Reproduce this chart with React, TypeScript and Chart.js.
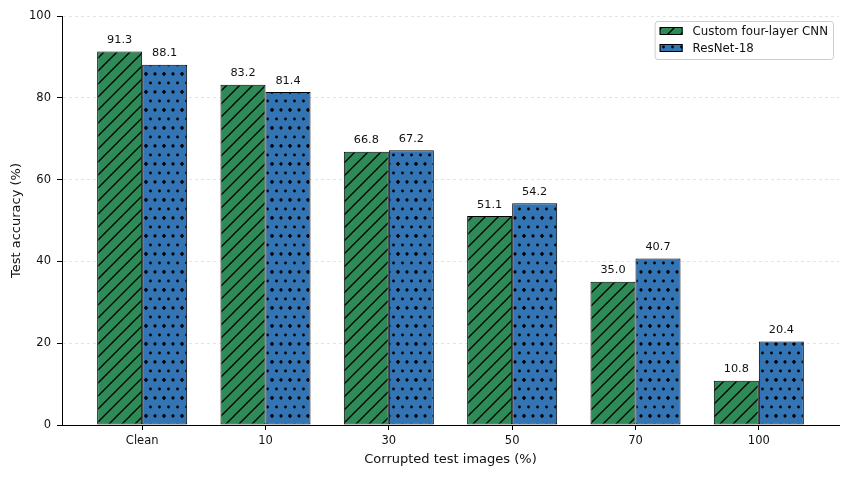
import React, { useEffect, useRef } from "react";
import { Chart, registerables } from "chart.js";

Chart.register(...registerables);

const categories = ["Clean", "10", "30", "50", "70", "100"];
const cnnValues = [91.3, 83.2, 66.8, 51.1, 35.0, 10.8];
const resnetValues = [88.1, 81.4, 67.2, 54.2, 40.7, 20.4];
const seriesNames = ["Custom four-layer CNN", "ResNet-18"];
const yTicks = [0, 20, 40, 60, 80, 100];

const GREEN = "#2e8b57";
const BLUE = "#3274b4";
const FONT = "'DejaVu Sans', sans-serif";
const TEXT = "#111";

function makeHatch(bg: string): CanvasPattern | string {
  const s = 13;
  const c = document.createElement("canvas");
  c.width = s;
  c.height = s;
  const g = c.getContext("2d");
  if (!g) return bg;
  g.fillStyle = bg;
  g.fillRect(0, 0, s, s);
  g.strokeStyle = "#000";
  g.lineWidth = 1.3;
  g.beginPath();
  g.moveTo(-2, s + 2);
  g.lineTo(s + 2, -2);
  g.moveTo(-2, 2);
  g.lineTo(2, -2);
  g.moveTo(s - 2, s + 2);
  g.lineTo(s + 2, s - 2);
  g.stroke();
  const p = g.createPattern(c, "repeat");
  return p || bg;
}

function makeDots(bg: string): CanvasPattern | string {
  const s = 18;
  const c = document.createElement("canvas");
  c.width = s;
  c.height = s;
  const g = c.getContext("2d");
  if (!g) return bg;
  g.fillStyle = bg;
  g.fillRect(0, 0, s, s);
  g.fillStyle = "#000";
  const pts: [number, number][] = [];
  for (const y of [0, 18]) for (const x of [0, 9, 18]) pts.push([x, y]);
  for (const x of [4.5, 13.5]) pts.push([x, 9]);
  for (const [x, y] of pts) {
    for (const dx of [0, -s]) {
      for (const dy of [0, -s]) {
        g.beginPath();
        g.arc(x + 2 + dx, y + 2 + dy, 1.4, 0, Math.PI * 2);
        g.fill();
      }
    }
  }
  const p = g.createPattern(c, "repeat");
  return p || bg;
}

export default function App() {
  const ref = useRef<HTMLCanvasElement | null>(null);

  useEffect(() => {
    if (!ref.current) return;
    Chart.defaults.font.family = FONT;
    const hatch = makeHatch(GREEN);
    const dots = makeDots(BLUE);
    const fills = [hatch, dots];

    const labelPlugin = {
      id: "valueLabels",
      afterDatasetsDraw(chart: any) {
        const ctx = chart.ctx;
        ctx.save();
        ctx.font = `11.3px ${FONT}`;
        ctx.fillStyle = TEXT;
        ctx.textAlign = "center";
        ctx.textBaseline = "alphabetic";
        chart.data.datasets.forEach((ds: any, di: number) => {
          const meta = chart.getDatasetMeta(di);
          meta.data.forEach((bar: any, i: number) => {
            const v = ds.data[i].y;
            ctx.fillText(v.toFixed(1), bar.x, bar.y - 8.5);
          });
        });
        ctx.restore();
      },
    };

    const legendPlugin = {
      id: "customLegend",
      afterDraw(chart: any) {
        const ctx = chart.ctx;
        ctx.save();
        ctx.font = `11.8px ${FONT}`;
        const tw = Math.max(...seriesNames.map((n) => ctx.measureText(n).width));
        const right = 833;
        const top = 21;
        const h = 38;
        const w = 5 + 23 + 10 + tw + 5;
        const left = right - w;
        ctx.fillStyle = "rgba(255,255,255,0.85)";
        ctx.strokeStyle = "#cccccc";
        ctx.lineWidth = 1;
        ctx.beginPath();
        ctx.roundRect(left + 0.5, top + 0.5, w, h, 3);
        ctx.fill();
        ctx.stroke();
        const rows = [31, 48];
        seriesNames.forEach((n, i) => {
          const y = rows[i];
          ctx.fillStyle = fills[i] as any;
          ctx.fillRect(left + 5, y - 4, 23, 8);
          ctx.strokeStyle = "#000";
          ctx.lineWidth = 1;
          ctx.strokeRect(left + 5.5, y - 3.5, 22, 7);
          ctx.fillStyle = TEXT;
          ctx.textAlign = "left";
          ctx.textBaseline = "middle";
          ctx.fillText(n, left + 38, y + 0.5);
        });
        ctx.restore();
      },
    };

    const chart = new Chart(ref.current, {
      type: "bar",
      data: {
        datasets: [
          {
            label: seriesNames[0],
            data: cnnValues.map((v, i) => ({ x: i, y: v })),
            backgroundColor: hatch as any,
            borderColor: "#000",
            borderWidth: 1,
            borderSkipped: false,
          },
          {
            label: seriesNames[1],
            data: resnetValues.map((v, i) => ({ x: i, y: v })),
            backgroundColor: dots as any,
            borderColor: "#000",
            borderWidth: 1,
            borderSkipped: false,
          },
        ],
      },
      options: {
        responsive: false,
        animation: false,
        categoryPercentage: 0.73,
        barPercentage: 1,
        layout: { padding: { top: 16, right: 11, left: 0, bottom: 0 } },
        plugins: {
          legend: { display: false },
          tooltip: { enabled: false },
        },
        scales: {
          x: {
            type: "linear",
            min: -0.65,
            max: 5.65,
            offset: false,
            afterBuildTicks: (scale: any) => {
              scale.ticks = categories.map((_, i) => ({ value: i }));
            },
            afterFit: (scale: any) => {
              scale.height = 52;
            },
            ticks: {
              callback: (v: any) => categories[Math.round(Number(v))] ?? "",
              color: TEXT,
              font: { size: 11.5, family: FONT },
              padding: 4,
              maxRotation: 0,
              autoSkip: false,
            },
            grid: {
              display: true,
              offset: false,
              drawOnChartArea: false,
              drawTicks: true,
              tickLength: 5,
              tickColor: "#000",
              tickWidth: 1,
            },
            border: { display: true, color: "#000", width: 1 },
            title: {
              display: true,
              text: "Corrupted test images (%)",
              color: TEXT,
              font: { size: 13, family: FONT },
              padding: { top: 0, bottom: 10 },
            },
          },
          y: {
            min: 0,
            max: 100,
            afterBuildTicks: (scale: any) => {
              scale.ticks = yTicks.map((v) => ({ value: v }));
            },
            afterFit: (scale: any) => {
              scale.width = 62;
            },
            ticks: {
              color: TEXT,
              font: { size: 11.5, family: FONT },
              padding: 6,
            },
            grid: {
              display: true,
              color: "#dddddd",
              lineWidth: 0.8,
              drawTicks: true,
              tickLength: 5,
              tickColor: "#000",
              tickWidth: 1,
              tickBorderDash: [],
            },
            border: { display: true, color: "#000", width: 1, dash: [3, 3] },
            title: {
              display: true,
              text: "Test accuracy (%)",
              color: TEXT,
              font: { size: 13, family: FONT },
              padding: { top: 9, bottom: 0 },
            },
          },
        },
      },
      plugins: [labelPlugin, legendPlugin],
    } as any);

    return () => chart.destroy();
  }, []);

  return (
    <div style={{ position: "absolute", left: 0, top: 0, width: 850, height: 477, background: "#fff" }}>
      <canvas ref={ref} width={850} height={477} />
    </div>
  );
}
